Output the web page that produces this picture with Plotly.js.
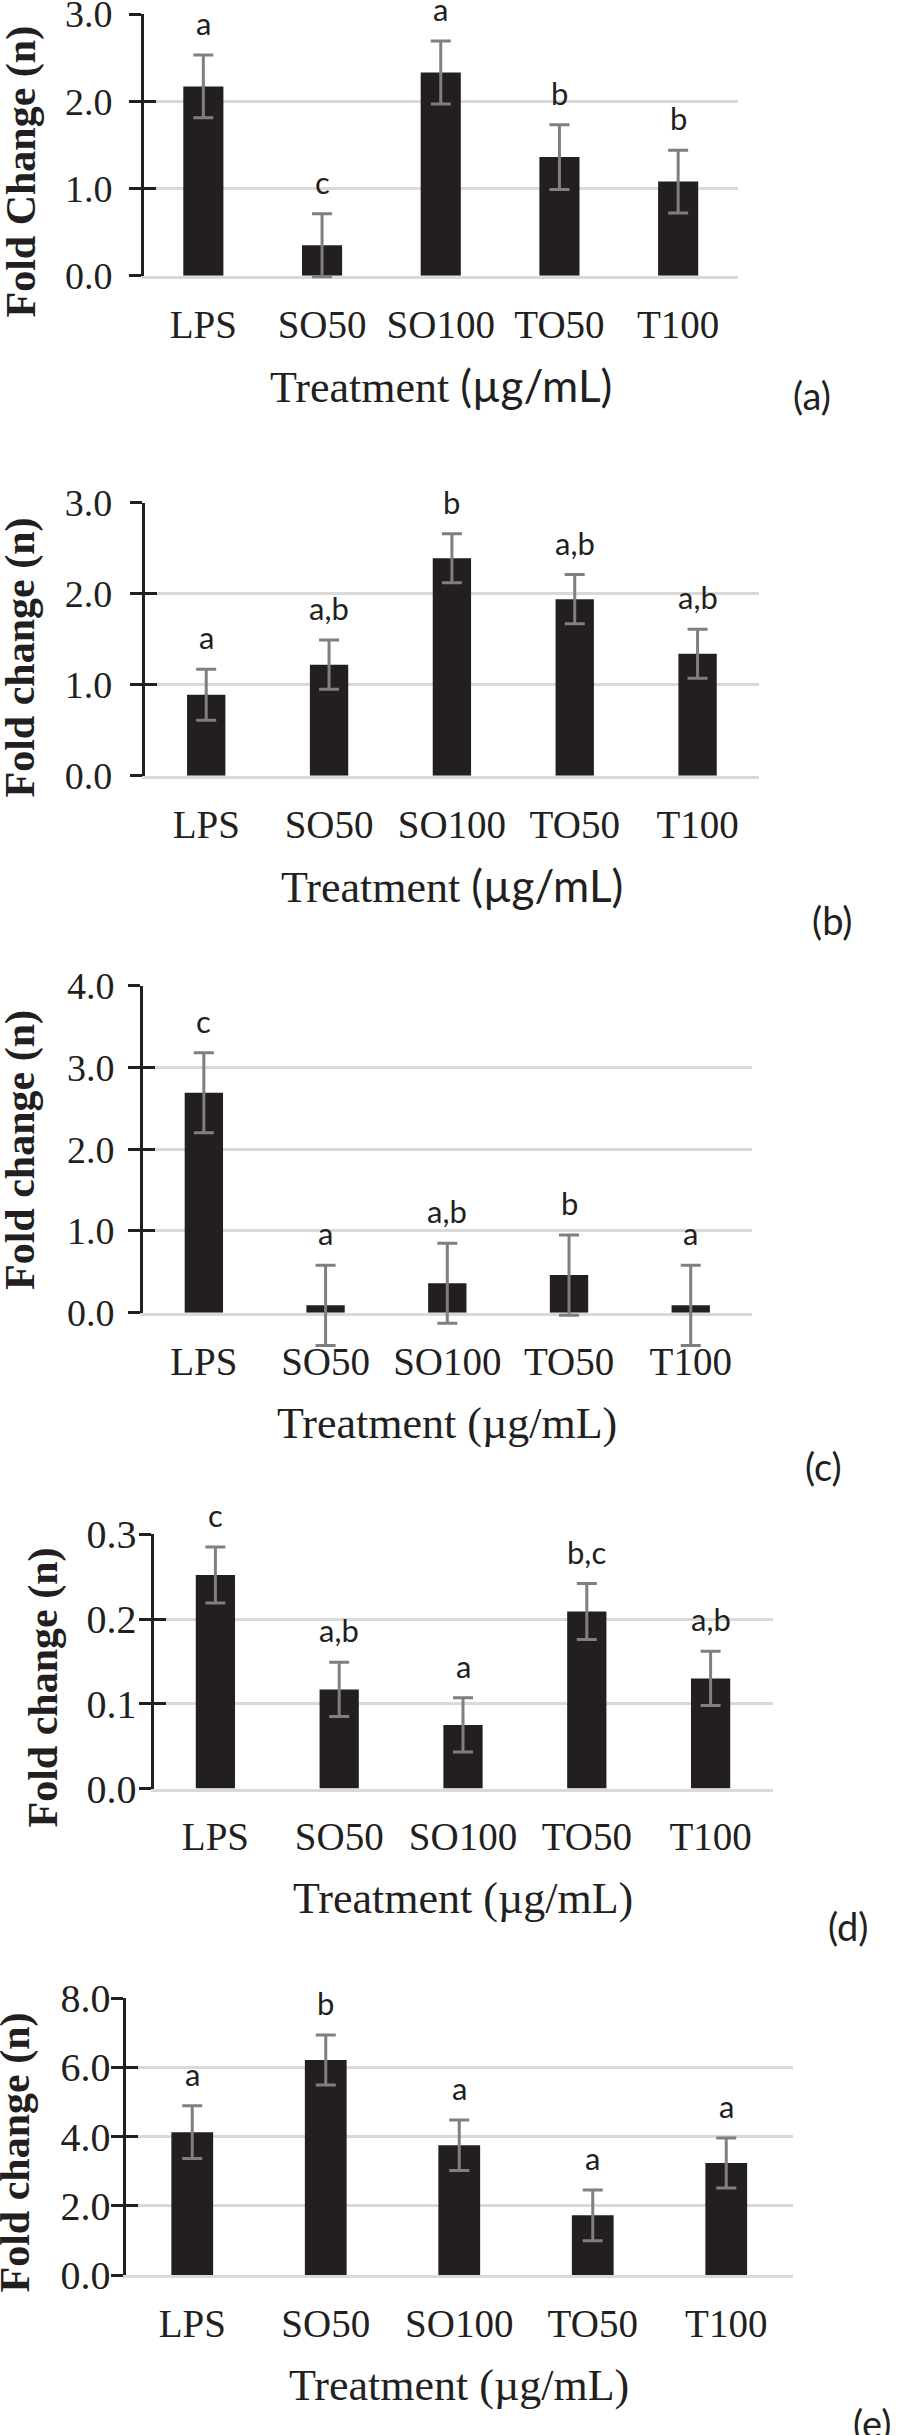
<!DOCTYPE html>
<html>
<head>
<meta charset="utf-8">
<script src="https://cdn.plot.ly/plotly-3.0.1.min.js"></script>
<style>html,body{margin:0;padding:0;background:#ffffff;}</style>
</head>
<body>
<div id="chart" style="width:898px;height:2435px;"></div>
<script>
// ---------- DATA ----------
const categories = ['LPS', 'SO50', 'SO100', 'TO50', 'T100'];

const valuesA  = [2.17, 0.35, 2.33, 1.36, 1.08];
const errorsA  = [0.36, 0.36, 0.36, 0.37, 0.36];
const lettersA = ['a', 'c', 'a', 'b', 'b'];
const tickValsA = [0, 1, 2, 3];

const valuesB  = [0.89, 1.22, 2.39, 1.94, 1.34];
const errorsB  = [0.28, 0.27, 0.27, 0.27, 0.27];
const lettersB = ['a', 'a,b', 'b', 'a,b', 'a,b'];
const tickValsB = [0, 1, 2, 3];

const valuesC  = [2.69, 0.09, 0.36, 0.46, 0.09];
const errorsC  = [0.49, 0.49, 0.49, 0.49, 0.49];
const lettersC = ['c', 'a', 'a,b', 'b', 'a'];
const tickValsC = [0, 1, 2, 3, 4];

const valuesD  = [0.252, 0.117, 0.075, 0.209, 0.130];
const errorsD  = [0.033, 0.032, 0.032, 0.033, 0.032];
const lettersD = ['c', 'a,b', 'a', 'b,c', 'a,b'];
const tickValsD = [0, 0.1, 0.2, 0.3];

const valuesE  = [4.13, 6.21, 3.75, 1.73, 3.24];
const errorsE  = [0.76, 0.72, 0.73, 0.73, 0.72];
const lettersE = ['a', 'b', 'a', 'a', 'a'];
const tickValsE = [0, 2, 4, 6, 8];

const yTitles = ['Fold Change (n)', 'Fold change (n)', 'Fold change (n)', 'Fold change (n)', 'Fold change (n)'];
const xTitles = [
  'Treatment <span style="font-family:Lato">(µg/mL)</span>',
  'Treatment <span style="font-family:Lato">(µg/mL)</span>',
  'Treatment (µg/mL)',
  'Treatment (µg/mL)',
  'Treatment (µg/mL)'
];
const panelLabels = ['(a)', '(b)', '(c)', '(d)', '(e)'];

// ---------- LAYOUT GEOMETRY (pixels) ----------
const W = 898, H = 2435;
const INK = '#231f20', GRID = '#d9d9d9', ERR = '#7f7f7f';
const SERIF = 'Liberation Serif, Times New Roman, serif';
const SANS = 'Lato, Open Sans, sans-serif';
const EXT = 45; // extra room (px) so error bars may run past the axis ends

const panels = [
  {vals: valuesA, errs: errorsA, letters: lettersA, ticks: tickValsA,
   x0: 144, x1: 737.5, top: 14, bot: 275.8, barW: 0.338, yTick: 38, yStand: 9,
   yTitleX: 21, yTitleY: 171.5, xTitleY: 385, labX: 811.5, labY: 395},
  {vals: valuesB, errs: errorsB, letters: lettersB, ticks: tickValsB,
   x0: 144.8, x1: 759, top: 502.7, bot: 775.7, barW: 0.312, yTick: 38, yStand: 10,
   yTitleX: 20, yTitleY: 657.5, xTitleY: 885, labX: 832, labY: 920},
  {vals: valuesC, errs: errorsC, letters: lettersC, ticks: tickValsC,
   x0: 143, x1: 751.6, top: 985.7, bot: 1312.7, barW: 0.315, yTick: 38, yStand: 6,
   yTitleX: 20, yTitleY: 1150, xTitleY: 1423.5, labX: 823.5, labY: 1466},
  {vals: valuesD, errs: errorsD, letters: lettersD, ticks: tickValsD,
   x0: 153.5, x1: 772.5, top: 1534.4, bot: 1788.5, barW: 0.317, yTick: 40, yStand: -6,
   yTitleX: 43, yTitleY: 1687.5, xTitleY: 1898.5, labX: 848, labY: 1926},
  {vals: valuesE, errs: errorsE, letters: lettersE, ticks: tickValsE,
   x0: 125.5, x1: 793, top: 1998, bot: 2275.3, barW: 0.313, yTick: 40, yStand: -8,
   yTitleX: 15, yTitleY: 2152.5, xTitleY: 2385, labX: 872, labY: 2423}
];

const barTraces = [];
const errTraces = [];
const dummyTraces = [];
const annotations = [];
const layout = {
  width: W, height: H,
  margin: {l: 0, r: 0, t: 0, b: 0, pad: 0},
  paper_bgcolor: '#ffffff',
  plot_bgcolor: 'rgba(0,0,0,0)',
  showlegend: false,
  font: {family: SERIF, color: INK}
};

panels.forEach((p, i) => {
  const s = i === 0 ? '' : String(i + 1);
  const aux = String(i + 6);     // error-bar axis (wider domain, same scale)
  const ov = String(i + 11);     // inner half of crossing ticks
  const xName = 'x' + s, yName = 'y' + s;
  const maxV = p.ticks[p.ticks.length - 1];
  const yDom = [1 - p.bot / H, 1 - p.top / H];
  const pxPerUnit = (p.bot - p.top) / maxV;
  const ext = EXT / pxPerUnit;

  layout['xaxis' + s] = {
    domain: [p.x0 / W, p.x1 / W], anchor: yName, type: 'category',
    showgrid: false, zeroline: false,
    showline: true, linecolor: GRID, linewidth: 3,
    ticks: '', ticklabelstandoff: 12,
    tickfont: {family: SERIF, size: 39, color: INK},
    fixedrange: true
  };
  layout['yaxis' + s] = {
    domain: yDom, anchor: xName, range: [0, maxV],
    tickmode: 'array', tickvals: p.ticks, tickformat: '.1f',
    showgrid: true, gridcolor: GRID, gridwidth: 3,
    zeroline: false,
    showline: true, linecolor: INK, linewidth: 3,
    ticks: 'outside', ticklen: 12, tickwidth: 3, tickcolor: INK,
    ticklabelstandoff: p.yStand, ticklabeloverflow: 'allow',
    tickfont: {family: SERIF, size: p.yTick, color: INK},
    fixedrange: true
  };
  layout['yaxis' + aux] = {
    domain: [1 - (p.bot + EXT) / H, 1 - (p.top - Math.min(EXT, p.top)) / H],
    anchor: xName, range: [-ext, maxV + Math.min(EXT, p.top) / pxPerUnit],
    visible: false, fixedrange: true
  };
  layout['yaxis' + ov] = {
    domain: yDom, anchor: xName, overlaying: yName, side: 'left', range: [0, maxV],
    tickmode: 'array', tickvals: p.ticks,
    showgrid: false, zeroline: false, showline: false,
    ticks: 'inside', ticklen: 12, tickwidth: 3, tickcolor: INK,
    showticklabels: false, fixedrange: true
  };

  barTraces.push({
    type: 'bar', x: categories, y: p.vals,
    xaxis: xName, yaxis: yName,
    width: p.barW,
    marker: {color: INK, line: {width: 0}},
    hoverinfo: 'skip', showlegend: false
  });
  errTraces.push({
    type: 'bar', x: categories, y: p.vals,
    xaxis: xName, yaxis: 'y' + aux,
    width: p.barW,
    marker: {color: 'rgba(0,0,0,0)', line: {width: 0}},
    error_y: {type: 'data', array: p.errs, visible: true, color: ERR, thickness: 3, width: 10},
    hoverinfo: 'skip', showlegend: false
  });
  dummyTraces.push({
    type: 'scatter', x: [], y: [], xaxis: xName, yaxis: 'y' + ov,
    hoverinfo: 'skip', showlegend: false
  });

  // significance letters
  categories.forEach((c, k) => {
    annotations.push({
      xref: xName, yref: yName, x: c, y: p.vals[k] + p.errs[k],
      text: p.letters[k], showarrow: false,
      xanchor: 'center', yanchor: 'bottom', yshift: 11,
      font: {family: SANS, size: 31, color: INK}
    });
  });

  // y axis title
  annotations.push({
    xref: 'paper', yref: 'paper', x: p.yTitleX / W, y: 1 - p.yTitleY / H,
    text: '<b>' + yTitles[i] + '</b>', textangle: -90, showarrow: false,
    xanchor: 'center', yanchor: 'middle',
    font: {family: SERIF, size: 42, color: INK}
  });
  // x axis title
  annotations.push({
    xref: 'paper', yref: 'paper', x: ((p.x0 + p.x1) / 2) / W, y: 1 - p.xTitleY / H,
    text: xTitles[i], showarrow: false,
    xanchor: 'center', yanchor: 'middle',
    font: {family: SERIF, size: 44, color: INK}
  });
  // panel label
  annotations.push({
    xref: 'paper', yref: 'paper', x: p.labX / W, y: 1 - p.labY / H,
    text: panelLabels[i], showarrow: false,
    xanchor: 'center', yanchor: 'middle',
    font: {family: SANS, size: 38, color: INK}
  });
});

layout.annotations = annotations;

Plotly.newPlot('chart', barTraces.concat(dummyTraces, errTraces), layout,
  {staticPlot: true, displayModeBar: false});
</script>
</body>
</html>
